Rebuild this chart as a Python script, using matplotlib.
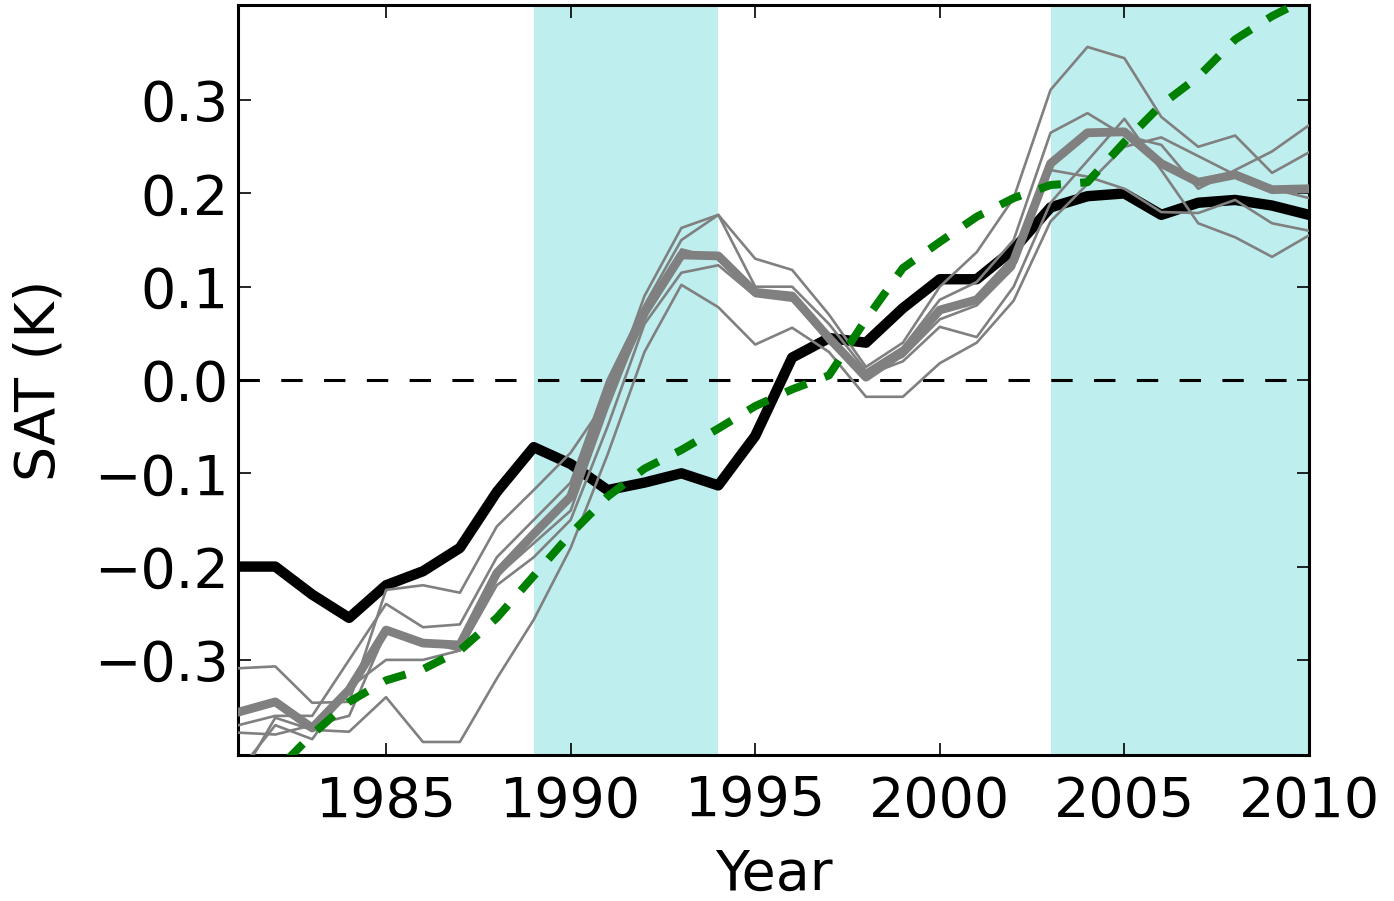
import numpy as np
import matplotlib
matplotlib.use("Agg")
import matplotlib.pyplot as plt

# data
years = list(range(1981, 2011))

obs = [-0.20, -0.20, -0.23, -0.255, -0.22, -0.205, -0.18, -0.12, -0.072, -0.09,
       -0.118, -0.11, -0.10, -0.113, -0.06, 0.024, 0.045, 0.04, 0.077, 0.108,
       0.108, 0.14, 0.185, 0.197, 0.20, 0.177, 0.19, 0.193, 0.187, 0.177]

ens_mean = [-0.356, -0.345, -0.373, -0.332, -0.268, -0.282, -0.284, -0.207, -0.165, -0.125,
            -0.014, 0.072, 0.134, 0.133, 0.094, 0.09, 0.045, 0.003, 0.03, 0.075,
            0.086, 0.128, 0.232, 0.265, 0.266, 0.232, 0.212, 0.22, 0.204, 0.205]

trend = [-0.48, -0.42, -0.38, -0.345, -0.322, -0.31, -0.29, -0.255, -0.21, -0.165,
         -0.125, -0.095, -0.075, -0.052, -0.028, -0.01, 0.005, 0.065, 0.12, 0.148,
         0.175, 0.195, 0.209, 0.212, 0.255, 0.295, 0.325, 0.365, 0.39, 0.41]

member1 = [-0.309, -0.307, -0.346, -0.345, -0.225, -0.22, -0.228, -0.157, -0.118, -0.078,
           -0.02, 0.09, 0.163, 0.177, 0.13, 0.118, 0.07, 0.014, 0.04, 0.10,
           0.137, 0.195, 0.311, 0.357, 0.345, 0.282, 0.25, 0.262, 0.222, 0.244]
member2 = [-0.37, -0.36, -0.36, -0.30, -0.24, -0.265, -0.262, -0.19, -0.15, -0.11,
           0.0, 0.08, 0.15, 0.177, 0.10, 0.10, 0.06, 0.01, 0.035, 0.086,
           0.105, 0.15, 0.265, 0.286, 0.262, 0.252, 0.205, 0.225, 0.245, 0.273]
member3 = [-0.378, -0.38, -0.37, -0.36, -0.27, -0.28, -0.29, -0.21, -0.175, -0.14,
           -0.03, 0.07, 0.14, 0.13, 0.095, 0.088, 0.04, 0.005, 0.02, 0.057,
           0.046, 0.10, 0.19, 0.235, 0.28, 0.225, 0.168, 0.153, 0.132, 0.155]
member4 = [-0.42, -0.37, -0.385, -0.33, -0.30, -0.30, -0.29, -0.22, -0.19, -0.15,
           -0.05, 0.06, 0.115, 0.123, 0.09, 0.085, 0.045, 0.01, 0.025, 0.065,
           0.08, 0.12, 0.225, 0.218, 0.205, 0.18, 0.179, 0.193, 0.168, 0.16]
member5 = [-0.43, -0.362, -0.375, -0.377, -0.34, -0.388, -0.388, -0.32, -0.257, -0.18,
           -0.08, 0.03, 0.102, 0.078, 0.038, 0.056, 0.03, -0.018, -0.018, 0.018,
           0.04, 0.085, 0.17, 0.21, 0.25, 0.26, 0.24, 0.22, 0.205, 0.195]
members = [member1, member2, member3, member4, member5]

shaded = [(1989, 1994), (2003, 2010)]

plt.rcParams['font.family'] = 'DejaVu Sans'
plt.rcParams['font.size'] = 40

fig = plt.figure(figsize=(13.94, 9.01), dpi=100)
ax = fig.add_axes([0.171, 0.162, 0.768, 0.8325])

for x0, x1 in shaded:
    ax.axvspan(x0, x1, color='c', alpha=0.25, lw=0, zorder=0)

ax.axhline(0, color='k', lw=2.2, dashes=(7, 7), zorder=1)

ax.plot(years, obs, color='k', lw=7.5, zorder=2)
for m in members:
    ax.plot(years, m, color='gray', lw=1.9, zorder=3)
ax.plot(years, ens_mean, color='gray', lw=6.3, zorder=4)
ax.plot(years, trend, color='g', lw=5.8, dashes=(2.8, 2.4), zorder=5)

ax.set_xlim(1981, 2010)
ax.set_ylim(-0.402, 0.402)
ax.set_xticks([1985, 1990, 1995, 2000, 2005, 2010])
ax.set_yticks([-0.3, -0.2, -0.1, 0.0, 0.1, 0.2, 0.3])
ax.set_yticklabels(['\u22120.3', '\u22120.2', '\u22120.1', '0.0', '0.1', '0.2', '0.3'])

ax.tick_params(direction='in', length=9, width=1.2, top=True, right=True,
               labelsize=40)
ax.tick_params(axis='x', pad=14)
ax.tick_params(axis='y', pad=7)
for s in ax.spines.values():
    s.set_linewidth(2.2)

ax.set_xlabel('Year', fontsize=40)
ax.set_ylabel('SAT (K)', fontsize=40)
ax.xaxis.set_label_coords(0.5, -0.124)
ax.yaxis.set_label_coords(-0.161, 0.5)

fig.savefig('out.png', dpi=100)
